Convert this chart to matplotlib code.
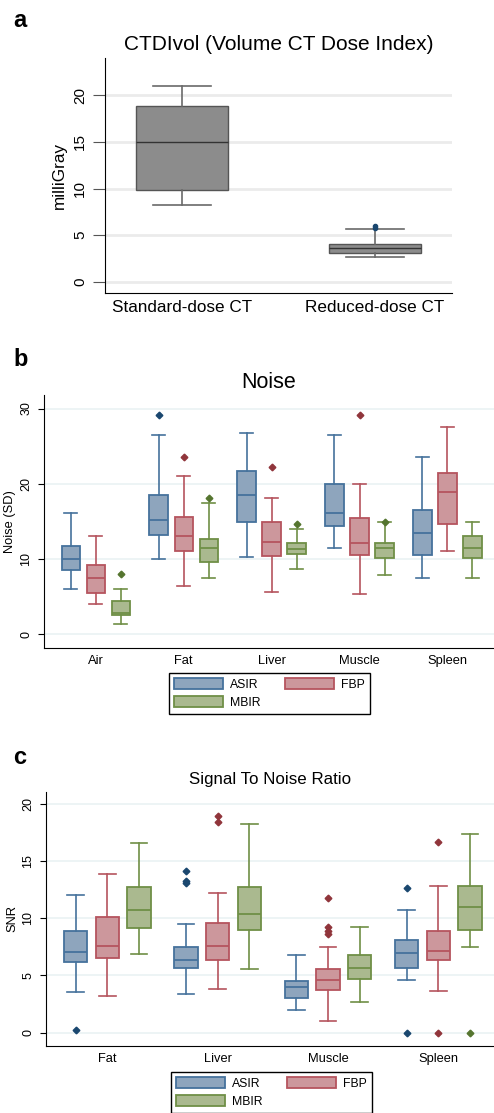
import numpy as np
import matplotlib.pyplot as plt
from matplotlib.patches import Patch

plt.rcParams['font.family'] = ['Liberation Sans', 'DejaVu Sans']

# panel a - CTDIvol
dose_cats = ['Standard-dose CT', 'Reduced-dose CT']
# (lower whisker, Q1, median, Q3, upper whisker)
dose_box = [(8.2, 9.8, 15.0, 18.9, 21.0), (2.7, 3.1, 3.6, 4.1, 5.7)]
dose_out = [[], [5.8, 6.0]]

methods = ['ASIR', 'FBP', 'MBIR']

# panel b - noise
noise_cats = ['Air', 'Fat', 'Liver', 'Muscle', 'Spleen']
noise_asir = [(6.0, 8.6, 10.0, 11.7, 16.1), (10.0, 13.2, 15.2, 18.5, 26.5),
              (10.3, 15.0, 18.5, 21.7, 26.7), (11.5, 14.4, 16.1, 20.0, 26.5),
              (7.5, 10.6, 13.5, 16.5, 23.5)]
noise_fbp = [(4.0, 5.5, 7.5, 9.2, 13.1), (6.5, 11.1, 13.1, 15.6, 21.0),
             (5.7, 10.4, 12.3, 15.0, 18.1), (5.4, 10.6, 12.1, 15.5, 20.0),
             (11.1, 14.7, 18.9, 21.5, 27.5)]
noise_mbir = [(1.4, 2.6, 2.9, 4.5, 6.0), (7.5, 9.6, 11.5, 12.7, 17.5),
              (8.7, 10.75, 11.4, 12.2, 14.0), (7.9, 10.1, 11.5, 12.1, 15.0),
              (7.5, 10.1, 11.5, 13.1, 15.0)]
noise_asir_out = [[], [29.1], [], [], []]
noise_fbp_out = [[], [23.6], [22.3], [29.1], []]
noise_mbir_out = [[8.0], [18.1], [14.7], [15.0], []]

# panel c - SNR
snr_cats = ['Fat', 'Liver', 'Muscle', 'Spleen']
snr_asir = [(3.53, 6.19, 7.07, 8.88, 12.06), (3.42, 5.69, 6.39, 7.53, 9.46),
            (1.99, 3.04, 4.03, 4.50, 6.77), (4.58, 5.69, 6.98, 8.12, 10.72)]
snr_fbp = [(3.21, 6.57, 7.62, 10.13, 13.87), (3.82, 6.31, 7.62, 9.55, 12.23),
           (1.02, 3.71, 4.58, 5.55, 7.53), (3.62, 6.36, 7.18, 8.88, 12.82)]
snr_mbir = [(6.86, 9.14, 10.69, 12.73, 16.55), (5.55, 8.96, 10.34, 12.70, 18.28),
            (2.66, 4.67, 5.64, 6.77, 9.26), (7.53, 8.96, 10.98, 12.82, 17.40)]
snr_asir_out = [[0.23], [14.1, 13.3, 13.1], [], [12.64, 0.0]]
snr_fbp_out = [[], [18.95, 18.42], [11.8, 9.2, 8.9, 8.6], [16.7, 0.0]]
snr_mbir_out = [[], [], [], [0.0]]

fills = ['#8ea5bd', '#cc979c', '#aab98f']
edges = ['#45729c', '#b5545e', '#6f8f46']
dots = ['#1a476f', '#90353b', '#55752f']


def make_stats(boxes, outs):
    return [dict(whislo=b[0], q1=b[1], med=b[2], q3=b[3], whishi=b[4], fliers=o)
            for b, o in zip(boxes, outs)]


def style_axes(ax, grid_color):
    ax.spines['top'].set_visible(False)
    ax.spines['right'].set_visible(False)
    ax.yaxis.grid(True, color=grid_color, lw=1.2)
    ax.set_axisbelow(True)
    ax.tick_params(axis='x', length=0)
    for lab in ax.get_yticklabels():
        lab.set_rotation(90)
        lab.set_va('center')


fig = plt.figure(figsize=(4.94, 11.13), dpi=100)

# ---- a
ax1 = fig.add_axes([105 / 494, 1 - 293 / 1113, 347 / 494, 235 / 1113])
ax1.bxp(make_stats(dose_box, dose_out), positions=[1, 2], widths=0.48, capwidths=0.3,
        patch_artist=True,
        boxprops=dict(facecolor='#8c8c8c', edgecolor='#555555', lw=1.0),
        medianprops=dict(color='#333333', lw=1.0),
        whiskerprops=dict(color='#6a6a6a', lw=1.2),
        capprops=dict(color='#6a6a6a', lw=1.2),
        flierprops=dict(marker='o', markersize=3, markerfacecolor='#1a476f',
                        markeredgecolor='#1a476f'))
ax1.set_xlim(0.6, 2.4)
ax1.set_ylim(-1.2, 24)
ax1.set_yticks([0, 5, 10, 15, 20])
ax1.set_xticks([1, 2])
ax1.set_xticklabels(dose_cats, fontsize=12.3)
ax1.set_ylabel('milliGray', fontsize=12.3, labelpad=4)
ax1.set_title('CTDIvol (Volume CT Dose Index)', fontsize=15, pad=6)
ax1.tick_params(axis='y', labelsize=11, length=9, pad=4, color='#555555')
ax1.tick_params(axis='x', pad=5)
style_axes(ax1, '#ebebeb')
ax1.yaxis.grid(True, color='#ebebeb', lw=2)
fig.text(13 / 494, 1 - 27 / 1113, 'a', fontsize=17, weight='bold')


def grouped(ax, cats, series, outs, offset=0.285):
    x = np.arange(1, len(cats) + 1)
    for i in range(3):
        ax.bxp(make_stats(series[i], outs[i]), positions=x + (i - 1) * offset,
               widths=0.21, capwidths=0.15, patch_artist=True,
               boxprops=dict(facecolor=fills[i], edgecolor=edges[i], lw=1.3),
               medianprops=dict(color=edges[i], lw=1.3),
               whiskerprops=dict(color=edges[i], lw=1.2),
               capprops=dict(color=edges[i], lw=1.2),
               flierprops=dict(marker='D', markersize=3.4, markerfacecolor=dots[i],
                               markeredgecolor=dots[i]))
    ax.set_xticks(x)
    ax.set_xticklabels(cats, fontsize=9.3)


handles = [Patch(facecolor=fills[i], edgecolor=edges[i], lw=1.3, label=methods[i])
           for i in range(3)]
order = [handles[0], handles[2], handles[1]]

# ---- b
ax2 = fig.add_axes([44 / 494, 1 - 648 / 1113, 450 / 494, 253 / 1113])
grouped(ax2, noise_cats, [noise_asir, noise_fbp, noise_mbir],
        [noise_asir_out, noise_fbp_out, noise_mbir_out])
ax2.set_xlim(0.41, 5.53)
ax2.set_ylim(-1.8, 31.8)
ax2.set_yticks([0, 10, 20, 30])
ax2.set_ylabel('Noise (SD)', fontsize=9.3, labelpad=3)
ax2.set_title('Noise', fontsize=15.5, pad=5)
ax2.tick_params(axis='y', labelsize=9, length=4.3, pad=4)
ax2.tick_params(axis='x', pad=5)
style_axes(ax2, '#eaf2f3')
fig.text(13 / 494, 1 - 366 / 1113, 'b', fontsize=17, weight='bold')
fig.legend(handles=order, ncol=2, loc='upper left',
           bbox_to_anchor=(169 / 494, 1 - 673 / 1113), fontsize=8.8,
           frameon=True, fancybox=False, edgecolor='black', framealpha=1,
           handlelength=4.0, handleheight=1.0, handletextpad=0.6,
           columnspacing=2.0, labelspacing=0.45, borderpad=0.4, borderaxespad=0)

# ---- c
ax3 = fig.add_axes([45.7 / 494, 1 - 1046 / 1113, 448.3 / 494, 254 / 1113])
grouped(ax3, snr_cats, [snr_asir, snr_fbp, snr_mbir],
        [snr_asir_out, snr_fbp_out, snr_mbir_out], offset=0.287)
ax3.set_xlim(0.442, 4.505)
ax3.set_ylim(-1.17, 21.05)
ax3.set_yticks([0, 5, 10, 15, 20])
ax3.set_ylabel('SNR', fontsize=9.3, labelpad=3)
ax3.set_title('Signal To Noise Ratio', fontsize=12.2, pad=6)
ax3.tick_params(axis='y', labelsize=9, length=4.3, pad=4)
ax3.tick_params(axis='x', pad=5)
style_axes(ax3, '#eaf2f3')
fig.text(13 / 494, 1 - 764 / 1113, 'c', fontsize=17, weight='bold')
fig.legend(handles=order, ncol=2, loc='upper left',
           bbox_to_anchor=(171 / 494, 1 - 1072 / 1113), fontsize=8.8,
           frameon=True, fancybox=False, edgecolor='black', framealpha=1,
           handlelength=4.0, handleheight=1.0, handletextpad=0.6,
           columnspacing=2.0, labelspacing=0.45, borderpad=0.4, borderaxespad=0)

fig.savefig('out.png', dpi=100)
